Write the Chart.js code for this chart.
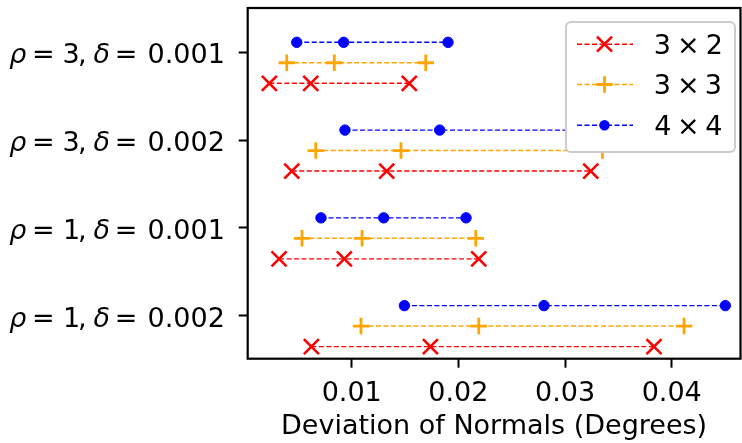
<!DOCTYPE html>
<html><head><meta charset="utf-8">
<script src="https://cdn.jsdelivr.net/npm/chart.js@4/dist/chart.umd.min.js"></script>
<style>html,body{margin:0;padding:0;background:#fff;}#wrap{width:742px;height:443px;position:relative;}</style>
</head><body><div id="wrap"><canvas id="c" width="742" height="443"></canvas></div>
<script>
// ---- data ----
const categories = ["ρ = 3, δ = 0.001", "ρ = 3, δ = 0.002", "ρ = 1, δ = 0.001", "ρ = 1, δ = 0.002"];
const rhoValues = ["3", "3", "1", "1"];
const deltaValues = ["0.001", "0.002", "0.001", "0.002"];
const seriesNames = ["3 × 2", "3 × 3", "4 × 4"];
// three values per category (same order as categories)
const vals3x2 = [[0.00228, 0.00616, 0.01540], [0.00438, 0.01328, 0.03241], [0.00319, 0.00931, 0.02191], [0.00622, 0.01738, 0.03834]];
const vals3x3 = [[0.00391, 0.00837, 0.01694], [0.00663, 0.01462, 0.03350], [0.00534, 0.01097, 0.02163], [0.01087, 0.02191, 0.04116]];
const vals4x4 = [[0.00485, 0.00925, 0.01903], [0.00937, 0.01825, 0.03550], [0.00712, 0.01300, 0.02072], [0.01494, 0.02803, 0.04503]];
const xTickValues = [0.01, 0.02, 0.03, 0.04];

// ---- styles ----
const FONT = "'DejaVu Sans'";
const FS = 27;
const styles = [
  {color: 'rgb(255,0,0)', point: 'crossRot', radius: 10.6, bw: 2.6, off: 0.352},
  {color: 'rgb(255,165,0)', point: 'cross', radius: 8.2, bw: 2.8, off: 0.118},
  {color: 'rgb(0,0,255)', point: 'circle', radius: 5.2, bw: 1, off: -0.115}
];
const allSeries = [vals3x2, vals3x3, vals4x4];

const datasets = [];
allSeries.forEach((ser, s) => {
  const st = styles[s];
  ser.forEach((row, ci) => {
    datasets.push({
      label: seriesNames[s],
      data: row.map(v => ({x: v, y: ci + st.off})),
      showLine: true,
      borderColor: st.color,
      backgroundColor: st.color,
      borderWidth: 1.4,
      borderDash: [5, 2.5],
      pointStyle: st.point,
      pointRadius: st.radius,
      pointHoverRadius: st.radius,
      pointBorderWidth: st.bw,
      pointBorderColor: st.color,
      pointBackgroundColor: st.color,
      clip: 12
    });
  });
});

function inkCenter(ctx, t, cx, base) {
  const m = ctx.measureText(t);
  ctx.textAlign = 'left';
  ctx.fillText(t, cx - (m.actualBoundingBoxRight - m.actualBoundingBoxLeft) / 2, base);
}

const framePlugin = {
  id: 'frame',
  afterDraw(chart) {
    const {ctx, chartArea: a} = chart;
    ctx.save();
    ctx.textBaseline = 'alphabetic';
    // y category labels, mathtext-like
    const ys = chart.scales.y;
    const R = a.left - 25;
    categories.forEach((c, i) => {
      const base = ys.getPixelForValue(i) + 10.9;
      ctx.fillStyle = '#000';
      const parts = [
        ['ρ', true, -204.9], ['=', false, -179.7], [rhoValues[i], false, -151.2], [',', false, -140.7],
        ['δ', true, -121.2], ['=', false, -96.9]
      ];
      parts.forEach(([t, it, dx]) => {
        ctx.font = (it ? 'italic ' : '') + FS + 'px ' + FONT;
        inkCenter(ctx, t, R + dx, base);
      });
      ctx.font = FS + 'px ' + FONT;
      const m = ctx.measureText(deltaValues[i]);
      ctx.textAlign = 'left';
      ctx.fillText(deltaValues[i], R - m.actualBoundingBoxRight, base);
    });
    // legend
    const L = {x: 566, y: 22, w: 169, h: 130, r: 5};
    ctx.beginPath();
    ctx.roundRect(L.x, L.y, L.w, L.h, L.r);
    ctx.fillStyle = '#fff';
    ctx.fill();
    ctx.lineWidth = 2;
    ctx.strokeStyle = '#cccccc';
    ctx.stroke();
    const rows = [44.2, 84.5, 125.3];
    seriesNames.forEach((name, i) => {
      const st = styles[i];
      const y = rows[i];
      ctx.beginPath();
      ctx.setLineDash([5, 2.5]);
      ctx.lineWidth = 1.4;
      ctx.strokeStyle = st.color;
      ctx.moveTo(577, y); ctx.lineTo(633, y);
      ctx.stroke();
      ctx.setLineDash([]);
      const cx = 604.5;
      ctx.lineWidth = st.bw;
      ctx.beginPath();
      if (st.point === 'crossRot') {
        const d = st.radius * Math.SQRT1_2;
        ctx.moveTo(cx - d, y - d); ctx.lineTo(cx + d, y + d);
        ctx.moveTo(cx + d, y - d); ctx.lineTo(cx - d, y + d);
        ctx.stroke();
      } else if (st.point === 'cross') {
        const d = st.radius;
        ctx.moveTo(cx - d, y); ctx.lineTo(cx + d, y);
        ctx.moveTo(cx, y - d); ctx.lineTo(cx, y + d);
        ctx.stroke();
      } else {
        ctx.fillStyle = st.color;
        ctx.arc(cx, y, st.radius, 0, Math.PI * 2);
        ctx.fill();
      }
      ctx.fillStyle = '#000';
      ctx.font = FS + 'px ' + FONT;
      const chars = name.split(' ');
      const xs = [662.8, 688, 713.7];
      chars.forEach((ch, k) => inkCenter(ctx, ch, xs[k], y + 9.9));
    });
    // frame
    ctx.lineWidth = 2.2;
    ctx.strokeStyle = '#000';
    ctx.strokeRect(a.left, a.top, a.right - a.left, a.bottom - a.top);
    ctx.restore();
  }
};

const chart = new Chart(document.getElementById('c'), {
  type: 'scatter',
  data: {datasets},
  plugins: [framePlugin],
  options: {
    responsive: false,
    devicePixelRatio: 1,
    animation: false,
    events: [],
    layout: {autoPadding: false, padding: {left: 0, right: 1.5, top: 8, bottom: 0}},
    plugins: {legend: {display: false}, tooltip: {enabled: false}},
    scales: {
      x: {
        type: 'linear',
        min: 0.00025, max: 0.04645,
        afterBuildTicks: s => { s.ticks = xTickValues.map(v => ({value: v})); },
        afterFit: s => { s.height = 84.3; s.paddingLeft = 0; s.paddingRight = 0; },
        border: {display: false},
        grid: {drawOnChartArea: false, drawTicks: true, tickLength: 9, tickWidth: 2, tickColor: '#000', color: '#000'},
        ticks: {color: '#000', font: {family: FONT, size: FS}, padding: 10, maxRotation: 0,
          callback: v => v.toFixed(2)},
        title: {display: true, text: 'Deviation of Normals (Degrees)', color: '#000',
          font: {family: FONT, size: FS}, padding: {top: 2, bottom: 0}}
      },
      y: {
        type: 'linear',
        reverse: true,
        min: -0.506, max: 3.49,
        afterBuildTicks: s => { s.ticks = categories.map((c, i) => ({value: i})); },
        afterFit: s => { s.width = 247.7; s.paddingTop = 0; s.paddingBottom = 0; },
        border: {display: false},
        grid: {drawOnChartArea: false, drawTicks: true, tickLength: 9, tickWidth: 2, tickColor: '#000', color: '#000'},
        ticks: {display: false}
      }
    }
  }
});
</script></body></html>
